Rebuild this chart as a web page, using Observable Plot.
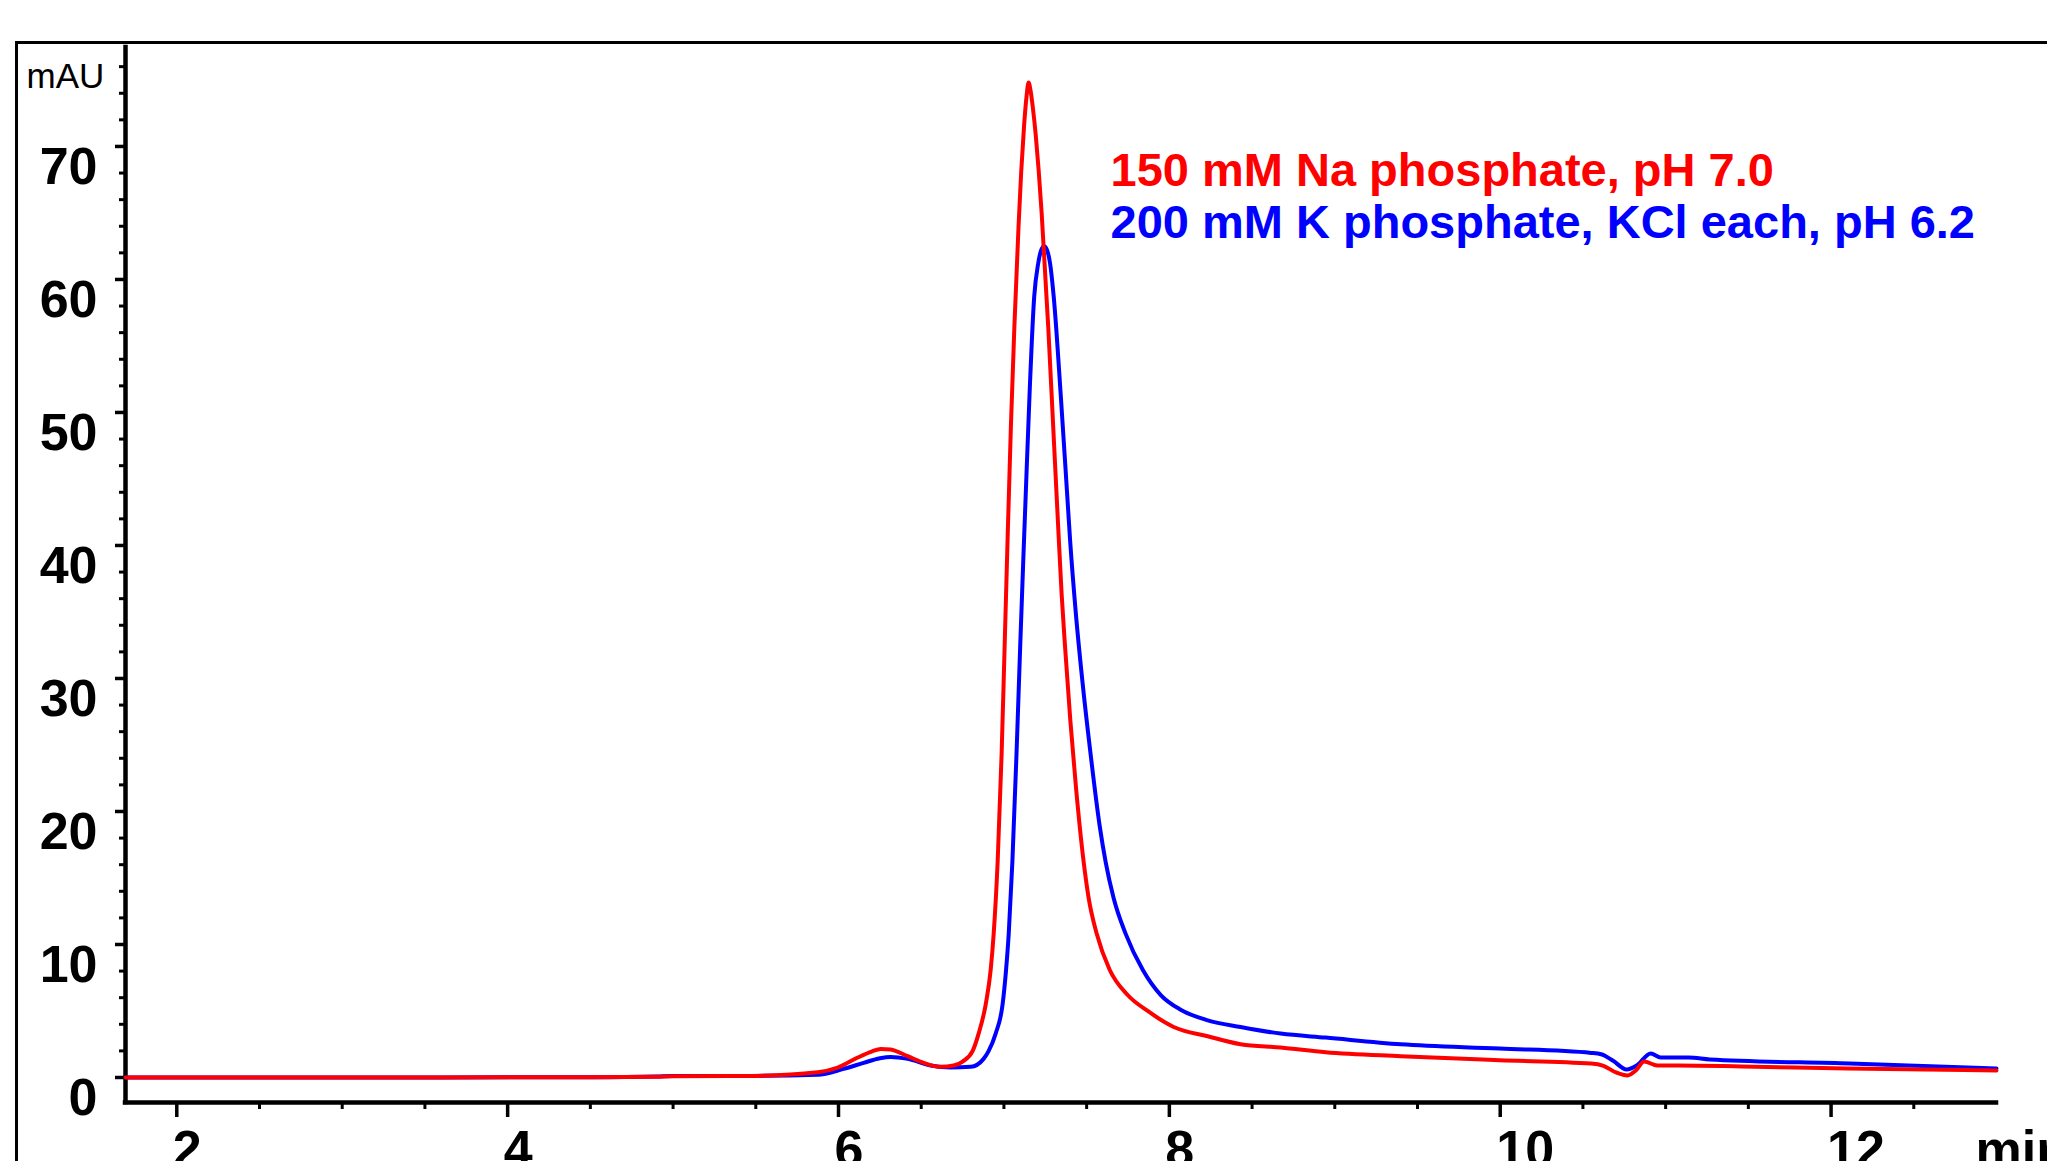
<!DOCTYPE html>
<html>
<head>
<meta charset="utf-8">
<script src="https://cdn.jsdelivr.net/npm/d3@7"></script>
<script src="https://cdn.jsdelivr.net/npm/@observablehq/plot@0.6"></script>
<style>
  html, body { margin: 0; padding: 0; background: #fff; }
  #chart svg { display: block; }
</style>
</head>
<body>
<div id="chart"></div>
<script>
// ---- data ----
const legendLabels = ["150 mM Na phosphate, pH 7.0", "200 mM K phosphate, KCl each, pH 6.2"];
const seriesColors = ["#ff0000", "#0000ff"];

const naTime = [1.69, 2.5, 3.5, 4.5, 4.9, 5.0, 5.47, 5.874, 5.995, 6.116, 6.2, 6.255, 6.315, 6.418, 6.515, 6.617, 6.696, 6.75, 6.811, 6.847, 6.89, 6.92, 6.938, 6.962, 6.986, 7.004, 7.022, 7.042, 7.063, 7.088, 7.104, 7.122, 7.137, 7.149, 7.161, 7.175, 7.192, 7.21, 7.228, 7.268, 7.298, 7.328, 7.349, 7.37, 7.401, 7.437, 7.482, 7.512, 7.561, 7.639, 7.748, 7.869, 8.026, 8.232, 8.431, 8.673, 8.945, 9.399, 9.997, 10.55, 10.62, 10.70, 10.77, 10.82, 10.87, 10.95, 11.08, 11.46, 12.1, 13.0];
const naValue = [0, 0, 0, 0.02, 0.05, 0.1, 0.12, 0.4, 0.75, 1.5, 1.95, 2.15, 2.1, 1.6, 1.1, 0.8, 0.9, 1.2, 2.0, 3.3, 5.5, 8.1, 10.8, 16.2, 24.3, 32.3, 40.4, 48.9, 56.4, 63.9, 68.0, 71.6, 73.8, 74.8, 74.2, 72.9, 70.9, 68.2, 65.0, 56.4, 48.9, 41.4, 36.3, 32.3, 26.9, 21.6, 16.2, 13.5, 10.8, 8.1, 6.2, 5.0, 3.8, 3.1, 2.5, 2.26, 1.9, 1.6, 1.3, 1.05, 0.9, 0.38, 0.15, 0.53, 1.2, 0.9, 0.9, 0.83, 0.68, 0.53];

const kTime = [1.69, 2.5, 3.5, 4.5, 4.9, 5.0, 5.47, 5.874, 6.031, 6.152, 6.25, 6.315, 6.418, 6.557, 6.678, 6.799, 6.877, 6.908, 6.95, 6.992, 7.013, 7.029, 7.051, 7.076, 7.098, 7.117, 7.132, 7.155, 7.183, 7.207, 7.225, 7.243, 7.261, 7.279, 7.301, 7.343, 7.382, 7.400, 7.434, 7.476, 7.524, 7.579, 7.615, 7.663, 7.736, 7.839, 7.948, 8.068, 8.232, 8.431, 8.673, 8.945, 9.399, 9.997, 10.55, 10.61, 10.68, 10.765, 10.825, 10.91, 10.97, 11.14, 11.267, 12.113, 13.0];
const kValue = [0, 0, 0, 0.02, 0.08, 0.12, 0.12, 0.2, 0.65, 1.1, 1.45, 1.55, 1.4, 0.9, 0.75, 0.8, 1.4, 2.0, 3.3, 5.5, 8.1, 10.8, 16.2, 24.3, 32.3, 38.9, 43.9, 51.4, 58.7, 61.2, 62.2, 62.5, 62.2, 61.2, 58.7, 51.4, 43.9, 40.4, 35.0, 29.6, 24.3, 18.9, 16.2, 13.5, 10.8, 8.1, 6.2, 5.1, 4.3, 3.8, 3.3, 3.0, 2.5, 2.18, 1.85, 1.75, 1.28, 0.6, 0.9, 1.8, 1.5, 1.5, 1.35, 1.05, 0.68];

const xMajorTicks = [2, 4, 6, 8, 10, 12];
const xMinorTicks = [2.5, 3, 3.5, 4.5, 5, 5.5, 6.5, 7, 7.5, 8.5, 9, 9.5, 10.5, 11, 11.5, 12.5];
const yMajorTicks = [0, 10, 20, 30, 40, 50, 60, 70];
const yMinorTicks = [2, 4, 6, 8, 12, 14, 16, 18, 22, 24, 26, 28, 32, 34, 36, 38, 42, 44, 46, 48, 52, 54, 56, 58, 62, 64, 66, 68, 72, 74, 76];
const xUnit = "min";
const yUnit = "mAU";
const xDomain = [1.69, 13.0];
const yDomain = [-1.88, 77.44];

// ---- build table ----
const kRows = kTime.map((t, i) => ({t, v: kValue[i], s: legendLabels[1]}));
const naRows = naTime.map((t, i) => ({t, v: naValue[i], s: legendLabels[0]}));

const FONT = "Liberation Sans, Arial, Helvetica, sans-serif";

const chart = Plot.plot({
  width: 2047,
  height: 1161,
  marginLeft: 125,
  marginRight: 51,
  marginTop: 47,
  marginBottom: 59,
  style: {background: "#fff", fontFamily: FONT},
  x: {domain: xDomain, axis: null},
  y: {domain: yDomain, axis: null},
  color: {domain: legendLabels, range: seriesColors},
  marks: [
    // outer thin border (extends past the picture on the right and bottom)
    Plot.frame({stroke: "#000", strokeWidth: 3, insetLeft: -109, insetTop: -5, insetRight: -300, insetBottom: -300}),
    // ticks
    Plot.axisY({ticks: yMajorTicks, tickSize: 10, tickFormat: () => "", strokeWidth: 3.5, label: null}),
    Plot.axisY({ticks: yMinorTicks, tickSize: 6, tickFormat: () => "", strokeWidth: 3, label: null}),
    Plot.axisX({ticks: xMajorTicks, tickSize: 15, tickFormat: () => "", strokeWidth: 3.5, label: null}),
    Plot.axisX({ticks: xMinorTicks, tickSize: 7, tickFormat: () => "", strokeWidth: 3, label: null}),
    // axis lines
    Plot.ruleX([xDomain[0]], {stroke: "#000", strokeWidth: 4.5, strokeLinecap: "square"}),
    Plot.ruleY([yDomain[0]], {stroke: "#000", strokeWidth: 4.5, strokeLinecap: "square"}),
    // tick labels
    Plot.text(yMajorTicks, {x: () => xDomain[0], y: d => d, text: d => String(d), textAnchor: "end", lineAnchor: "top", dx: -28, dy: 1, fontSize: 52, fontWeight: "bold", fill: "#000", fontFamily: FONT}),
    Plot.text(xMajorTicks, {x: d => d, y: () => yDomain[0], text: d => String(d), textAnchor: "start", lineAnchor: "top", dx: -4, dy: 28, fontSize: 52, fontWeight: "bold", fill: "#000", fontFamily: FONT}),
    Plot.text([xUnit], {x: () => xDomain[1], y: () => yDomain[0], text: d => d, textAnchor: "start", lineAnchor: "top", dx: -21, dy: 28, fontSize: 52, fontWeight: "bold", fill: "#000", fontFamily: FONT}),
    Plot.text([yUnit], {frameAnchor: "top-left", text: d => d, textAnchor: "start", lineAnchor: "top", dx: -99, dy: 16, fontSize: 35, fill: "#000", fontFamily: FONT}),
    // traces
    Plot.line(kRows, {x: "t", y: "v", stroke: "s", strokeWidth: 4, curve: "monotone-x"}),
    Plot.line(naRows, {x: "t", y: "v", stroke: "s", strokeWidth: 4, curve: "monotone-x"}),
    // legend text
    Plot.text([legendLabels[0]], {frameAnchor: "top-left", text: d => d, textAnchor: "start", lineAnchor: "top", dx: 985, dy: 105, fontSize: 47, fontWeight: "bold", fill: seriesColors[0], fontFamily: FONT}),
    Plot.text([legendLabels[1]], {frameAnchor: "top-left", text: d => d, textAnchor: "start", lineAnchor: "top", dx: 985, dy: 157, fontSize: 47, fontWeight: "bold", fill: seriesColors[1], fontFamily: FONT})
  ]
});

document.getElementById("chart").appendChild(chart);
</script>
</body>
</html>
